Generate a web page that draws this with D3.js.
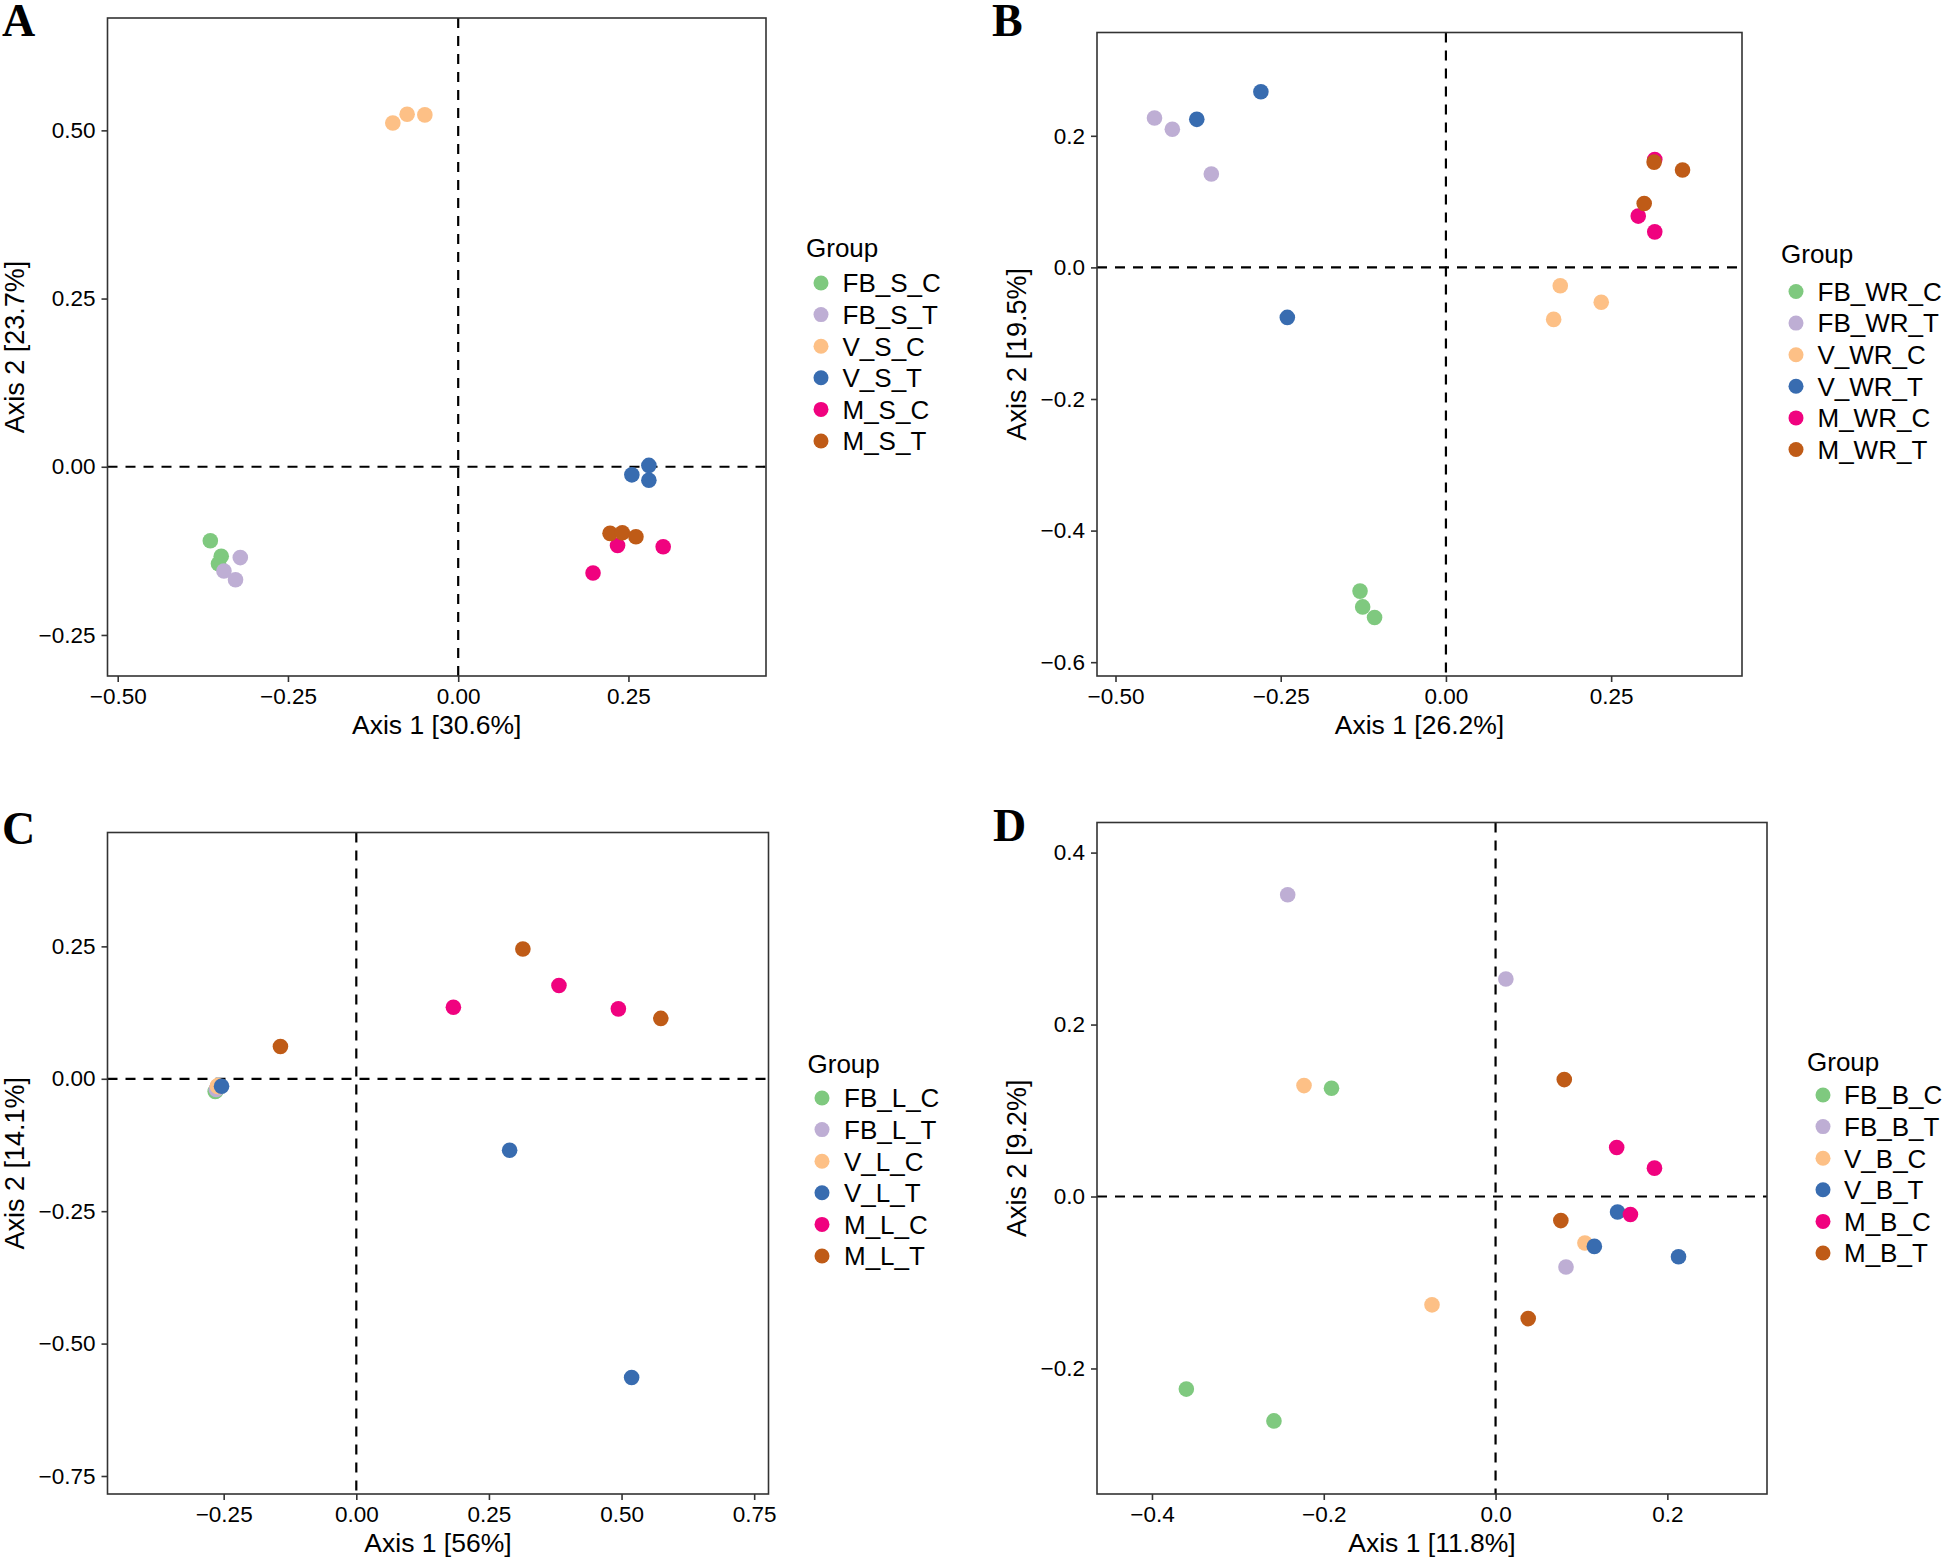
<!DOCTYPE html>
<html>
<head>
<meta charset="utf-8">
<script src="https://cdn.jsdelivr.net/npm/d3@7"></script>
<style>
  html, body { margin: 0; padding: 0; background: #ffffff; }
  svg { display: block; }
  text { font-family: "Liberation Sans", Arial, Helvetica, sans-serif; fill: #000; }
</style>
</head>
<body>
<script>
// ---------------- DATA ----------------
const groupColors = ["#7FC97F", "#BEAED4", "#FDC086", "#386CB0", "#F0027F", "#BF5B17"];

// Panel A
const groupsA = ["FB_S_C", "FB_S_T", "V_S_C", "V_S_T", "M_S_C", "M_S_T"];
const sampleGroupA = [0,0,0, 1,1,1, 2,2,2, 3,3,3, 4,4,4, 5,5,5];
const axis1A = [-0.364, -0.348, -0.352,  -0.320, -0.344, -0.327,  -0.096, -0.075, -0.049,  0.280, 0.255, 0.280,  0.234, 0.198, 0.301,  0.223, 0.241, 0.261];
const axis2A = [-0.110, -0.133, -0.144,  -0.135, -0.155, -0.168,   0.511,  0.524,  0.523,  0.002, -0.012, -0.020, -0.117, -0.158, -0.119, -0.099, -0.098, -0.104];
const xTicksA = [-0.50, -0.25, 0.00, 0.25];
const yTicksA = [-0.25, 0.00, 0.25, 0.50];
const xTitleA = "Axis 1 [30.6%]";
const yTitleA = "Axis 2 [23.7%]";

// Panel B
const groupsB = ["FB_WR_C", "FB_WR_T", "V_WR_C", "V_WR_T", "M_WR_C", "M_WR_T"];
const sampleGroupB = [0,0,0, 1,1,1, 2,2,2, 3,3,3, 4,4,4, 5,5,5];
const axis1B = [-0.130, -0.126, -0.108,  -0.441, -0.414, -0.355,  0.173, 0.235, 0.163,  -0.377, -0.280, -0.240,  0.316, 0.291, 0.316,  0.315, 0.358, 0.300];
const axis2B = [-0.492, -0.516, -0.532,   0.227,  0.210,  0.142, -0.028, -0.053, -0.079,  0.225,  0.267, -0.076,  0.164, 0.078, 0.054,  0.160, 0.148, 0.097];
const xTicksB = [-0.50, -0.25, 0.00, 0.25];
const yTicksB = [-0.6, -0.4, -0.2, 0.0, 0.2];
const xTitleB = "Axis 1 [26.2%]";
const yTitleB = "Axis 2 [19.5%]";

// Panel C
const groupsC = ["FB_L_C", "FB_L_T", "V_L_C", "V_L_T", "M_L_C", "M_L_T"];
const sampleGroupC = [0,0,0, 1,1,1, 2,2,2, 3,3,3, 4,4,4, 5,5,5];
const axis1C = [-0.266, -0.265, -0.264,  -0.264, -0.263, -0.262,  -0.262, -0.261, -0.260,  -0.254, 0.289, 0.519,  0.183, 0.382, 0.494,  0.314, 0.574, -0.143];
const axis2C = [-0.024, -0.023, -0.022,  -0.020, -0.019, -0.018,  -0.014, -0.013, -0.015,  -0.014, -0.135, -0.564,  0.135, 0.176, 0.132,  0.245, 0.114, 0.061];
const xTicksC = [-0.25, 0.00, 0.25, 0.50, 0.75];
const yTicksC = [-0.75, -0.50, -0.25, 0.00, 0.25];
const xTitleC = "Axis 1 [56%]";
const yTitleC = "Axis 2 [14.1%]";

// Panel D
const groupsD = ["FB_B_C", "FB_B_T", "V_B_C", "V_B_T", "M_B_C", "M_B_T"];
const sampleGroupD = [0,0,0, 1,1,1, 2,2,2, 3,3,3, 4,4,4, 5,5,5];
const axis1D = [-0.191, -0.360, -0.258,  -0.242, 0.012, 0.082,  -0.223, 0.104, -0.074,  0.142, 0.115, 0.213,  0.141, 0.185, 0.157,  0.080, 0.076, 0.038];
const axis2D = [ 0.126, -0.224, -0.261,   0.351, 0.253, -0.082,  0.129, -0.054, -0.126, -0.018, -0.058, -0.070,  0.057, 0.033, -0.021,  0.136, -0.028, -0.142];
const xTicksD = [-0.4, -0.2, 0.0, 0.2];
const yTicksD = [-0.2, 0.0, 0.2, 0.4];
const xTitleD = "Axis 1 [11.8%]";
const yTitleD = "Axis 2 [9.2%]";

const panelLetters = ["A", "B", "C", "D"];

// ---------------- LAYOUT (not data) ----------------
const panels = [
  { letter: panelLetters[0], groups: groupsA, g: sampleGroupA, x: axis1A, y: axis2A, xt: xTicksA, yt: yTicksA, xf: ".2f", yf: ".2f",
    xTitle: xTitleA, yTitle: yTitleA, xDom: [-0.515, 0.452], yDom: [-0.311, 0.667],
    box: [107.5, 766, 18, 676], letterPos: [2, 36], yTitleX: 24,
    leg: { gx: 806, gy: 257, cx: 821, cy: 283, lx: 842.5 } },
  { letter: panelLetters[1], groups: groupsB, g: sampleGroupB, x: axis1B, y: axis2B, xt: xTicksB, yt: yTicksB, xf: ".2f", yf: ".1f",
    xTitle: xTitleB, yTitle: yTitleB, xDom: [-0.528, 0.448], yDom: [-0.621, 0.357],
    box: [1097, 1742, 32.5, 676], letterPos: [992, 36], yTitleX: 1026,
    leg: { gx: 1781, gy: 263, cx: 1796, cy: 291.5, lx: 1817.5 } },
  { letter: panelLetters[2], groups: groupsC, g: sampleGroupC, x: axis1C, y: axis2C, xt: xTicksC, yt: yTicksC, xf: ".2f", yf: ".2f",
    xTitle: xTitleC, yTitle: yTitleC, xDom: [-0.469, 0.777], yDom: [-0.784, 0.465],
    box: [107.5, 768.5, 832.5, 1494], letterPos: [2, 844], yTitleX: 24,
    leg: { gx: 807.5, gy: 1073, cx: 822, cy: 1098, lx: 844 } },
  { letter: panelLetters[3], groups: groupsD, g: sampleGroupD, x: axis1D, y: axis2D, xt: xTicksD, yt: yTicksD, xf: ".1f", yf: ".1f",
    xTitle: xTitleD, yTitle: yTitleD, xDom: [-0.464, 0.316], yDom: [-0.346, 0.435],
    box: [1097, 1767, 822.5, 1494], letterPos: [993, 841], yTitleX: 1026,
    leg: { gx: 1807, gy: 1071, cx: 1823, cy: 1095, lx: 1844 } }
];

const W = 1944, H = 1561;
const svg = d3.select("body").append("svg").attr("width", W).attr("height", H);
svg.append("rect").attr("width", W).attr("height", H).attr("fill", "#fff");

const color = d3.scaleOrdinal().domain(d3.range(6)).range(groupColors);

panels.forEach(p => {
  const [x0, x1, y0, y1] = p.box;
  const xs = d3.scaleLinear().domain(p.xDom).range([x0, x1]);
  const ys = d3.scaleLinear().domain(p.yDom).range([y1, y0]);
  const g = svg.append("g");

  // panel letter
  g.append("text").attr("x", p.letterPos[0]).attr("y", p.letterPos[1])
    .style("font-family", "'Liberation Serif', 'Times New Roman', serif")
    .style("font-weight", "bold").style("font-size", "46px").text(p.letter);

  // clip
  const clipId = "clip" + p.letter;
  g.append("clipPath").attr("id", clipId).append("rect")
    .attr("x", x0).attr("y", y0).attr("width", x1 - x0).attr("height", y1 - y0);

  // dashed zero lines
  const inner = g.append("g").attr("clip-path", `url(#${clipId})`);
  inner.append("line").attr("x1", x0).attr("x2", x1).attr("y1", ys(0)).attr("y2", ys(0))
    .attr("stroke", "#000").attr("stroke-width", 2.2).attr("stroke-dasharray", "10,8");
  inner.append("line").attr("y1", y0).attr("y2", y1).attr("x1", xs(0)).attr("x2", xs(0))
    .attr("stroke", "#000").attr("stroke-width", 2.2).attr("stroke-dasharray", "10,8");

  // points
  const idx = d3.range(p.x.length);
  inner.selectAll("circle.pt").data(idx).join("circle").attr("class", "pt")
    .attr("cx", i => xs(p.x[i])).attr("cy", i => ys(p.y[i])).attr("r", 7.8)
    .attr("fill", i => color(p.g[i]));

  // axes
  const xAxis = d3.axisBottom(xs).tickValues(p.xt).tickFormat(d3.format(p.xf)).tickSizeOuter(0).tickSize(6).tickPadding(6);
  const yAxis = d3.axisLeft(ys).tickValues(p.yt).tickFormat(d3.format(p.yf)).tickSizeOuter(0).tickSize(6).tickPadding(6);
  const gx = g.append("g").attr("transform", `translate(0,${y1})`).call(xAxis);
  const gy = g.append("g").attr("transform", `translate(${x0},0)`).call(yAxis);
  [gx, gy].forEach(a => {
    a.select(".domain").remove();
    a.selectAll(".tick line").attr("stroke", "#333").attr("stroke-width", 1.6);
    a.selectAll(".tick text").attr("fill", "#000").style("font-size", "22.5px")
      .style("font-family", "'Liberation Sans', Arial, sans-serif");
  });

  // box
  g.append("rect").attr("x", x0).attr("y", y0).attr("width", x1 - x0).attr("height", y1 - y0)
    .attr("fill", "none").attr("stroke", "#333").attr("stroke-width", 1.6);

  // axis titles
  g.append("text").attr("x", (x0 + x1) / 2).attr("y", y1 + 58).attr("text-anchor", "middle")
    .style("font-size", "26.5px").text(p.xTitle);
  g.append("text").attr("transform", `translate(${p.yTitleX},${(y0 + y1) / 2}) rotate(-90)`)
    .attr("text-anchor", "middle").style("font-size", "27px").text(p.yTitle);

  // legend
  const L = p.leg;
  g.append("text").attr("x", L.gx).attr("y", L.gy).style("font-size", "26px").text("Group");
  const items = g.selectAll("g.leg").data(p.groups).join("g").attr("class", "leg")
    .attr("transform", (d, i) => `translate(0,${L.cy + i * 31.6})`);
  items.append("circle").attr("cx", L.cx).attr("cy", 0).attr("r", 7.5).attr("fill", (d, i) => color(i));
  items.append("text").attr("x", L.lx).attr("y", 0).attr("dy", "0.36em").style("font-size", "26px").text(d => d);
});
</script>
</body>
</html>
